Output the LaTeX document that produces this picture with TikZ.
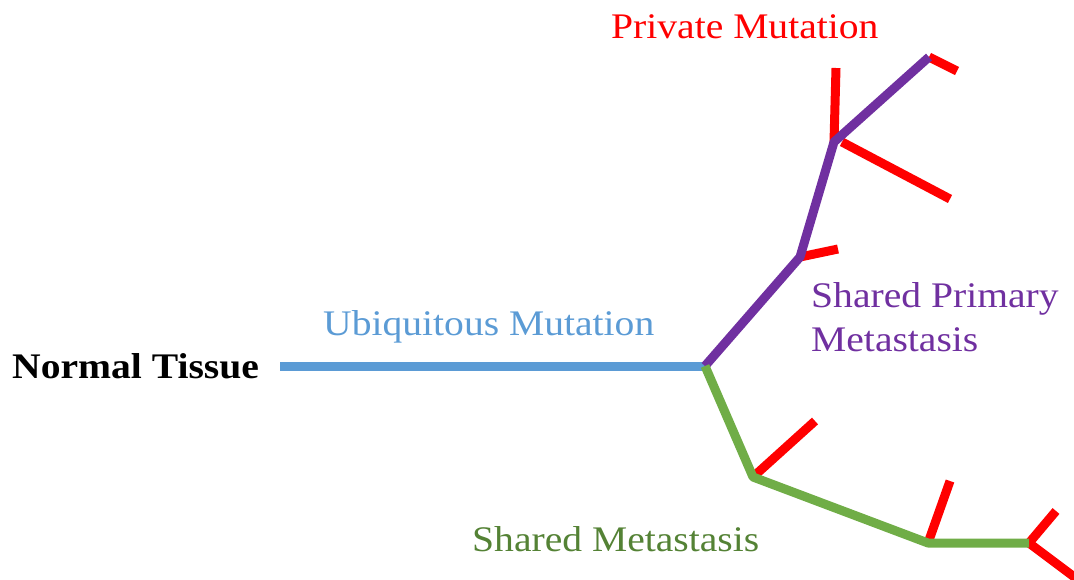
\documentclass[tikz,border=0pt]{standalone}
\usepackage{fontspec}
\setmainfont{Liberation Serif}
\usetikzlibrary{calc}
\definecolor{trunkblue}{HTML}{5B9BD5}
\definecolor{primpurple}{HTML}{7030A0}
\definecolor{metgreen}{HTML}{70AD47}
\definecolor{metgreentext}{HTML}{548235}
\definecolor{mutred}{HTML}{FF0000}
\newcommand{\lbl}[1]{\scalebox{1.1}[1]{#1}}
\begin{document}
\begin{tikzpicture}[x=1pt,y=-1pt,
  branch/.style={line width=9pt},
  trunk/.style={branch,draw=trunkblue},
  prim/.style={branch,draw=primpurple,line join=round},
  met/.style={branch,draw=metgreen,line join=round},
  priv/.style={branch,draw=mutred},
  txt/.style={inner sep=0pt,anchor=west,font=\fontsize{36}{42}\selectfont}]
\useasboundingbox (0,0) rectangle (1074,579);
\clip (0,0) rectangle (1074,579);

% branch points
\coordinate (root) at (280,366);
\coordinate (J) at (705,366);
\coordinate (P1) at (800,257);
\coordinate (P2) at (834,142);
\coordinate (P3) at (929,57);
\coordinate (G1) at (753,477);
\coordinate (G2) at (928,543);
\coordinate (G3) at (1029,543);
\coordinate (P2b) at (842,142);

% private mutation tips
\coordinate (r1) at (838,249);
\coordinate (r2) at (836,68);
\coordinate (r3) at (950,199);
\coordinate (r4) at (957,71);
\coordinate (r5) at (815,421);
\coordinate (r6) at (950,481);
\coordinate (r7) at (1056,511);
\coordinate (r8) at (1085,585);

% private mutations (red)
\draw[priv] (P1) -- (r1);
\draw[priv] (P2) -- (r2);
\draw[priv] (P2b) -- (r3);
\draw[priv] (P3) -- (r4);
\draw[priv] (G1) -- (r5);
\draw[priv] (G2) -- (r6);
\draw[priv] (G3) -- (r7);
\draw[priv] (G3) -- (r8);

% shared branches
\draw[trunk] (root) -- (J);
\draw[prim] (J) -- (P1) -- (P2) -- (P3);
\draw[met] (J) -- (G1) -- (G2) -- (G3);

% labels
\node[txt,font=\fontsize{36}{42}\selectfont\bfseries] (normal) at (12,366) {\lbl{Normal Tissue}};
\node[txt,text=trunkblue] (ubiq) at (323,327) {\lbl{Ubiquitous Mutation}};
\node[txt,text=mutred] (private) at (611,27) {\lbl{Private Mutation}};
\node[txt,text=primpurple,align=left,font=\fontsize{36}{44}\selectfont] (sharedprim) at (811,317) {\lbl{Shared Primary}\\\lbl{Metastasis}};
\node[txt,text=metgreentext] (sharedmet) at (472,539) {\lbl{Shared Metastasis}};
\end{tikzpicture}
\end{document}
